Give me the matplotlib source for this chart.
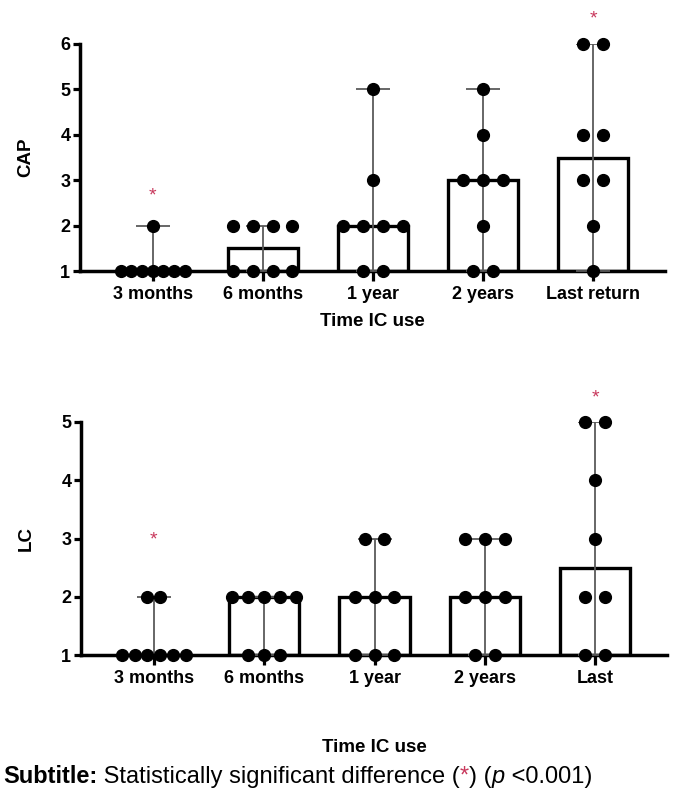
import matplotlib
matplotlib.use("Agg")
import matplotlib.pyplot as plt
import numpy as np

plt.rcParams['font.family'] = ['Liberation Sans', 'DejaVu Sans']

# CAP scores per time point (8 patients)
cap_labels = ["3 months", "6 months", "1 year", "2 years", "Last return"]
cap_values = [
    [1, 1, 1, 1, 1, 1, 1, 2],
    [1, 1, 1, 1, 2, 2, 2, 2],
    [1, 1, 2, 2, 2, 2, 3, 5],
    [1, 1, 2, 3, 3, 3, 4, 5],
    [1, 2, 3, 3, 4, 4, 6, 6],
]
cap_sig = {0: 2.65, 4: 6.55}   # where the significance asterisk sits

# LC scores per time point
lc_labels = ["3 months", "6 months", "1 year", "2 years", "Last"]
lc_values = [
    [1, 1, 1, 1, 1, 1, 2, 2],
    [1, 1, 1, 2, 2, 2, 2, 2],
    [1, 1, 1, 2, 2, 2, 3, 3],
    [1, 1, 2, 2, 2, 3, 3, 3],
    [1, 1, 2, 2, 3, 4, 5, 5],
]
lc_sig = {0: 2.97, 4: 5.42}

STAR_RED = "#c8385c"


def swarm_x(vals, center, step=0.18, span=0.58):
    """Spread tied values side by side around the column center."""
    vals = np.asarray(vals)
    uniq, counts = np.unique(vals, return_counts=True)
    maxc = counts.max()
    dx = step if maxc < 2 else min(step, span / (maxc - 1))
    xs, ys = [], []
    for u, c in zip(uniq, counts):
        offs = (np.arange(c) - (c - 1) / 2) * dx
        xs.extend(center + offs)
        ys.extend([u] * c)
    return xs, ys


def draw_panel(ax, labels, values, sig, ymax, ylabel, xlabel_pad):
    pos = np.arange(len(labels))
    med = [np.median(v) for v in values]
    lo = [min(v) for v in values]
    hi = [max(v) for v in values]

    ax.bar(pos, np.array(med) - 1, bottom=1, width=0.64, color="white",
           edgecolor="black", linewidth=2.4, zorder=2)
    ax.errorbar(pos, med, yerr=[np.array(med) - lo, np.array(hi) - med],
                fmt="none", ecolor="#5a5a5a", elinewidth=1.3, capsize=12,
                capthick=1.3, zorder=3)
    for i, v in enumerate(values):
        xs, ys = swarm_x(v, pos[i])
        ax.scatter(xs, ys, s=72, color="black", zorder=4, clip_on=False)
    for i, y in sig.items():
        ax.text(pos[i], y, "*", color=STAR_RED, ha="center", va="center",
                fontsize=14, clip_on=False)

    ax.set_xlim(-0.66, 4.65)
    ax.set_ylim(1, ymax)
    ax.set_yticks(range(1, ymax + 1))
    ax.set_xticks(pos)
    ax.set_xticklabels(labels, fontsize=13, fontweight="bold")
    for lab in ax.get_yticklabels():
        lab.set_fontweight("bold")
        lab.set_fontsize(13)
    ax.spines[["top", "right"]].set_visible(False)
    ax.spines[["left", "bottom"]].set_linewidth(2.5)
    ax.tick_params(axis="x", length=7, width=2.3, pad=4)
    ax.tick_params(axis="y", length=5, width=2.3, pad=2)
    ax.set_ylabel(ylabel, fontsize=13.5, fontweight="bold", labelpad=19)
    ax.set_xlabel("Time IC use", fontsize=13.5, fontweight="bold",
                  labelpad=xlabel_pad)


fig = plt.figure(figsize=(6.75, 8), dpi=100)
ax1 = fig.add_axes([0.1185, 0.661, 0.866, 0.284])
ax2 = fig.add_axes([0.120, 0.181, 0.868, 0.2915])

draw_panel(ax1, cap_labels, cap_values, cap_sig, 6, "CAP", 7)
draw_panel(ax2, lc_labels, lc_values, lc_sig, 5, "LC", 37)

# subtitle built from pieces so each part keeps its own style
pieces = [
    ("Subtitle:", dict(fontweight="bold", color="black")),
    (" Statistically significant difference (", dict(color="black")),
    ("*", dict(color=STAR_RED)),
    (") (", dict(color="black")),
    ("p", dict(color="black", style="italic")),
    (" <0.001)", dict(color="black")),
]
fig.canvas.draw()
renderer = fig.canvas.get_renderer()
x = 3 / 675
y = 1 - 783 / 800
for txt, kw in pieces:
    t = fig.text(x, y, txt, fontsize=17, va="baseline", ha="left", **kw)
    bb = t.get_window_extent(renderer=renderer)
    x += bb.width / fig.bbox.width

fig.savefig("out.png", dpi=100)
